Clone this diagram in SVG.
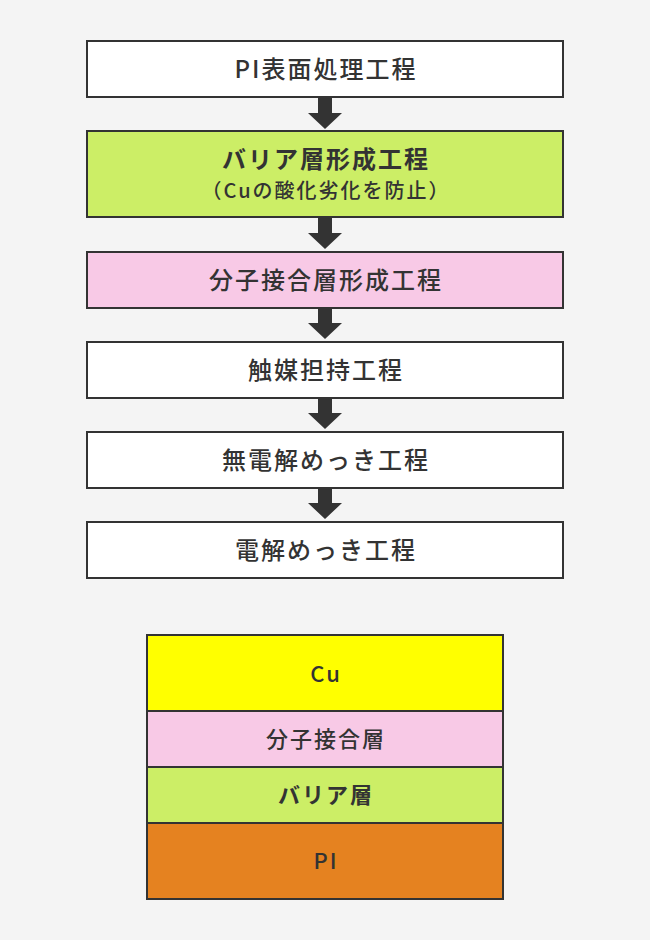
<svg xmlns="http://www.w3.org/2000/svg" width="650" height="940" viewBox="0 0 650 940">
<style>
.box{stroke:#333;stroke-width:2}
.t{font-family:"Noto Sans CJK JP","Noto Sans",sans-serif;font-weight:500;fill:#333;text-anchor:middle;letter-spacing:2px}
.b{font-weight:bold}
.arr{fill:#333}
</style>
<rect width="650" height="940" fill="#f4f4f4"/>
<g id="step1"><rect class="box" x="87" y="41" width="476" height="56" fill="#fff"/><text class="t" x="326" y="78" font-size="24">PI表面処理工程</text></g>
<g id="step2"><rect class="box" x="87" y="131" width="476" height="86" fill="#ccee66"/><text class="t b" x="326" y="168" font-size="24">バリア層形成工程</text><text class="t" x="326" y="198" font-size="20">（Cuの酸化劣化を防止）</text></g>
<g id="step3"><rect class="box" x="87" y="252" width="476" height="56" fill="#f8c9e6"/><text class="t" x="326" y="289" font-size="24">分子接合層形成工程</text></g>
<g id="step4"><rect class="box" x="87" y="342" width="476" height="56" fill="#fff"/><text class="t" x="326" y="379" font-size="24">触媒担持工程</text></g>
<g id="step5"><rect class="box" x="87" y="432" width="476" height="56" fill="#fff"/><text class="t" x="326" y="469" font-size="24">無電解めっき工程</text></g>
<g id="step6"><rect class="box" x="87" y="522" width="476" height="56" fill="#fff"/><text class="t" x="326" y="559" font-size="24">電解めっき工程</text></g>
<g id="connectors">
<polygon class="arr" points="318,98 332,98 332,113 342,113 325,129 308,113 318,113"/>
<polygon class="arr" points="318,218 332,218 332,233 342,233 325,249 308,233 318,233"/>
<polygon class="arr" points="318,309 332,309 332,323 342,323 325,339 308,323 318,323"/>
<polygon class="arr" points="318,399 332,399 332,413 342,413 325,429 308,413 318,413"/>
<polygon class="arr" points="318,489 332,489 332,503 342,503 325,519 308,503 318,503"/>
</g>
<g id="stack">
<g id="layer-cu"><rect class="box" x="147" y="635" width="356" height="76" fill="#ffff00"/><text class="t" x="326" y="682" font-size="22">Cu</text></g>
<g id="layer-mol"><rect class="box" x="147" y="711" width="356" height="56" fill="#f8c9e6"/><text class="t" x="326" y="747" font-size="22">分子接合層</text></g>
<g id="layer-barrier"><rect class="box" x="147" y="767" width="356" height="56" fill="#ccee66"/><text class="t b" x="326" y="803" font-size="22">バリア層</text></g>
<g id="layer-pi"><rect class="box" x="147" y="823" width="356" height="76" fill="#e58220"/><text class="t" x="326" y="869" font-size="22">PI</text></g>
</g>
</svg>
